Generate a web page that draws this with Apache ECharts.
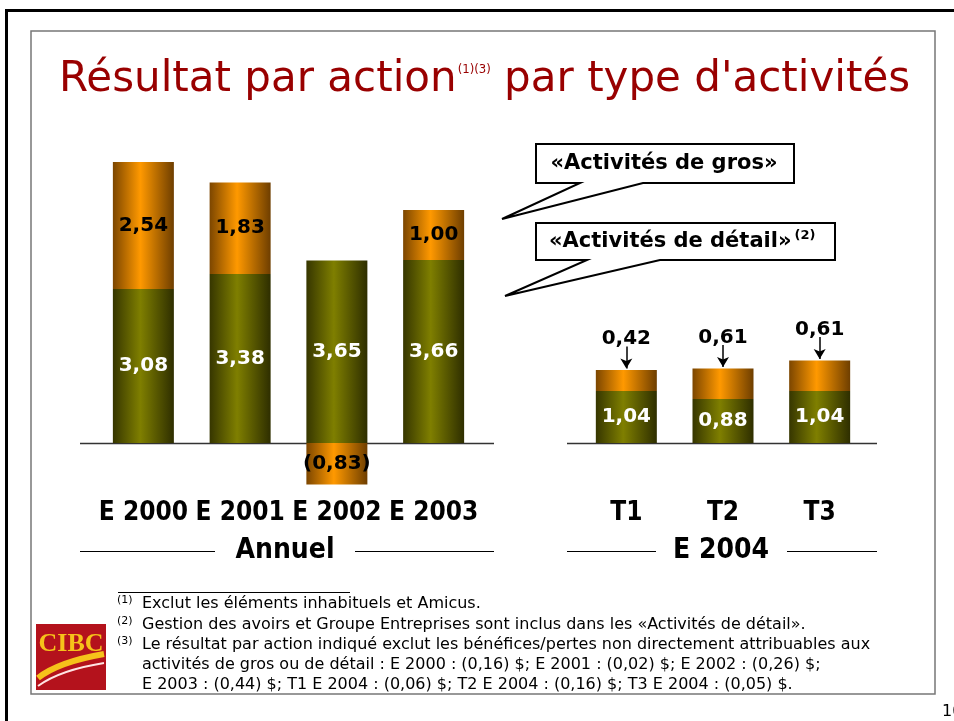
<!DOCTYPE html>
<html>
<head>
<meta charset="utf-8">
<script src="https://cdn.jsdelivr.net/npm/echarts@6/dist/echarts.min.js"></script>
<style>
html, body { margin: 0; padding: 0; background: #fff; }
#container { width: 954px; height: 721px; }
</style>
</head>
<body>
<div id="container"></div>
<script>
// values
var annualCats = ['E 2000', 'E 2001', 'E 2002', 'E 2003'];
var annualRetail = [3.08, 3.38, 3.65, 3.66];
var annualWholesale = [2.54, 1.83, -0.83, 1.00];

var quarterCats = ['T1', 'T2', 'T3'];
var quarterRetail = [1.04, 0.88, 1.04];
var quarterWholesale = [0.42, 0.61, 0.61];

var footnotes = [
    ['(1)', 'Exclut les éléments inhabituels et Amicus.'],
    ['(2)', 'Gestion des avoirs et Groupe Entreprises sont inclus dans les «Activités de détail».'],
    ['(3)', 'Le résultat par action indiqué exclut les bénéfices/pertes non directement attribuables aux'],
    ['', 'activités de gros ou de détail : E 2000 : (0,16) $; E 2001 : (0,02) $; E 2002 : (0,26) $;'],
    ['', 'E 2003 : (0,44) $; T1 E 2004 : (0,06) $; T2 E 2004 : (0,16) $; T3 E 2004 : (0,05) $.']
];

var dom = document.getElementById("container");
var myChart = echarts.init(dom);

var greenFill = new echarts.graphic.LinearGradient(0, 0, 1, 0, [
    {offset: 0, color: '#363600'},
    {offset: 0.45, color: '#7f7f00'},
    {offset: 1, color: '#2e2e00'}
]);
var orangeFill = new echarts.graphic.LinearGradient(0, 0, 1, 0, [
    {offset: 0, color: '#7c4600'},
    {offset: 0.45, color: '#ff9900'},
    {offset: 1, color: '#6e3e00'}
]);

function fr(v) {
    var s = Math.abs(v).toFixed(2).replace('.', ',');
    return v < 0 ? '(' + s + ')' : s;
}

var valFont = {fontFamily: 'DejaVu Sans', fontWeight: 'bold', fontSize: 20};
var catFont = {fontFamily: 'DejaVu Sans Condensed', fontWeight: 'bold', fontSize: 26, color: '#000'};

function catAxis(idx, cats) {
    return {
        type: 'category', gridIndex: idx, data: cats,
        axisLine: {show: false}, axisTick: {show: false},
        axisLabel: Object.assign({interval: 0, margin: 7}, catFont)
    };
}
function valAxis(idx) {
    return {type: 'value', gridIndex: idx, min: -1, max: 6, show: false, splitLine: {show: false}};
}

// arrows pointing down onto the quarterly "gros" segments
var arrowData = quarterCats.map(function (c, i) {
    var top = quarterRetail[i] + quarterWholesale[i];
    return [{coord: [i, top + 0.47]}, {coord: [i, top + 0.03]}];
});

option = {
    animation: false,
    title: {
        left: 54, top: 54,
        text: '{t|Résultat par action}{s|(1)(3)}{t| par type d\'activités}',
        textStyle: {
            rich: {
                t: {fontFamily: 'DejaVu Sans', fontWeight: 'normal', fontSize: 42, color: '#990000',
                    textShadowColor: '#b8b8b8', textShadowOffsetX: 2, textShadowOffsetY: 2, textShadowBlur: 0},
                s: {fontFamily: 'DejaVu Sans Condensed', fontWeight: 'normal', fontSize: 13, color: '#990000',
                    padding: [0, 0, 20, 1]}
            }
        }
    },
    grid: [
        {left: 95, top: 143, width: 387, height: 350},
        {left: 578, top: 143, width: 290, height: 350}
    ],
    xAxis: [catAxis(0, annualCats), catAxis(1, quarterCats)],
    yAxis: [valAxis(0), valAxis(1)],
    series: [{
        name: 'Activités de détail', type: 'bar', stack: 'a', xAxisIndex: 0, yAxisIndex: 0,
        data: annualRetail, barWidth: 61, itemStyle: {color: greenFill},
        label: Object.assign({show: true, position: 'inside', color: '#fff',
            formatter: function (p) { return fr(p.value); }}, valFont)
    }, {
        name: 'Activités de gros', type: 'bar', stack: 'a', xAxisIndex: 0, yAxisIndex: 0,
        data: annualWholesale, barWidth: 61, itemStyle: {color: orangeFill},
        label: Object.assign({show: true, position: 'inside', color: '#000',
            formatter: function (p) { return fr(p.value); }}, valFont)
    }, {
        name: 'Activités de détail', type: 'bar', stack: 'q', xAxisIndex: 1, yAxisIndex: 1,
        data: quarterRetail, barWidth: 61, itemStyle: {color: greenFill},
        label: Object.assign({show: true, position: 'inside', color: '#fff',
            formatter: function (p) { return fr(p.value); }}, valFont)
    }, {
        name: 'Activités de gros', type: 'bar', stack: 'q', xAxisIndex: 1, yAxisIndex: 1,
        data: quarterWholesale, barWidth: 61, itemStyle: {color: orangeFill},
        label: Object.assign({show: true, position: 'top', distance: 21, color: '#000',
            formatter: function (p) { return fr(p.value); }}, valFont),
        markLine: {
            silent: true, symbol: ['none', 'arrow'], symbolSize: [9, 10],
            label: {show: false},
            lineStyle: {color: '#000', type: 'solid', width: 1.5},
            data: arrowData
        }
    }]
};

if (option && typeof option === "object") {
    myChart.setOption(option, true);
}

// decorations: baselines, group labels, callouts, footnotes, logo, frame
var y0 = Math.round(myChart.convertToPixel({yAxisIndex: 0}, 0)) + 0.5;
var g = [];

function line(x1, y1, x2, y2, w, c) {
    g.push({type: 'line', shape: {x1: x1, y1: y1, x2: x2, y2: y2}, style: {stroke: c || '#000', lineWidth: w || 1}});
}

// frame
g.push({type: 'rect', shape: {x: 31, y: 31, width: 904, height: 663}, style: {fill: null, stroke: '#777', lineWidth: 1.5}});
line(5, 10.5, 954, 10.5, 3);
line(6.5, 9, 6.5, 721, 3);

// baselines
line(80, y0, 494, y0, 1.5, '#333');
line(567, y0, 877, y0, 1.5, '#333');

// group labels
line(80, 551.5, 215, 551.5, 1);
line(355, 551.5, 494, 551.5, 1);
line(567, 551.5, 656, 551.5, 1);
line(787, 551.5, 877, 551.5, 1);
g.push({type: 'text', x: 285, y: 551, style: {text: 'Annuel', textAlign: 'center', textVerticalAlign: 'middle', fill: '#000',
    font: 'bold 28px "DejaVu Sans Condensed"'}});
g.push({type: 'text', x: 721, y: 551, style: {text: 'E 2004', textAlign: 'center', textVerticalAlign: 'middle', fill: '#000',
    font: 'bold 28px "DejaVu Sans Condensed"'}});

// callouts
g.push({type: 'polygon', shape: {points: [[536, 144], [794, 144], [794, 183], [643, 183], [502, 219], [580, 183], [536, 183]]},
    style: {fill: '#fff', stroke: '#000', lineWidth: 2}});
g.push({type: 'text', x: 664, y: 164, style: {text: '«Activités de gros»', textAlign: 'center', textVerticalAlign: 'middle',
    fill: '#000', font: 'bold 21px "DejaVu Sans"'}});
g.push({type: 'polygon', shape: {points: [[536, 223], [835, 223], [835, 260], [660, 260], [505, 296], [587, 260], [536, 260]]},
    style: {fill: '#fff', stroke: '#000', lineWidth: 2}});
g.push({type: 'text', x: 549, y: 242, style: {
    text: '{b|«Activités de détail»}{s|(2)}', textVerticalAlign: 'middle',
    rich: {
        b: {fontFamily: 'DejaVu Sans', fontWeight: 'bold', fontSize: 21, color: '#000'},
        s: {fontFamily: 'DejaVu Sans', fontWeight: 'bold', fontSize: 13, color: '#000', padding: [0, 0, 12, 3]}
    }}});

// footnotes
line(118, 592.5, 350, 592.5, 1);
var fy = [604, 625, 645, 665, 685];
footnotes.forEach(function (f, i) {
    if (f[0]) {
        g.push({type: 'text', x: 117, y: fy[i] - 4, style: {text: f[0], textVerticalAlign: 'middle', fill: '#000',
            font: '11px "DejaVu Sans"'}});
    }
    g.push({type: 'text', x: 142, y: fy[i], scaleX: 1.066, style: {text: f[1], textVerticalAlign: 'middle', fill: '#000',
        font: '15px "DejaVu Sans"'}});
});

// logo
g.push({type: 'rect', shape: {x: 36, y: 624, width: 70, height: 66}, style: {fill: '#b4121c'}});
g.push({type: 'text', x: 71, y: 644, style: {text: 'CIBC', textAlign: 'center', textVerticalAlign: 'middle',
    fill: '#f6c21a', font: 'bold 26px "Liberation Serif"'}});
g.push({type: 'bezierCurve', shape: {x1: 38, y1: 678, x2: 104, y2: 654, cpx1: 58, cpy1: 662}, style: {stroke: '#f6c21a', lineWidth: 6, fill: null}});
g.push({type: 'bezierCurve', shape: {x1: 38, y1: 686, x2: 104, y2: 663, cpx1: 60, cpy1: 670}, style: {stroke: '#ffe4e4', lineWidth: 2, fill: null}});

// page number
g.push({type: 'text', x: 942, y: 712, style: {text: '10', textVerticalAlign: 'middle', fill: '#000', font: '16px "DejaVu Sans"'}});

myChart.setOption({graphic: g});
</script>
</body>
</html>
